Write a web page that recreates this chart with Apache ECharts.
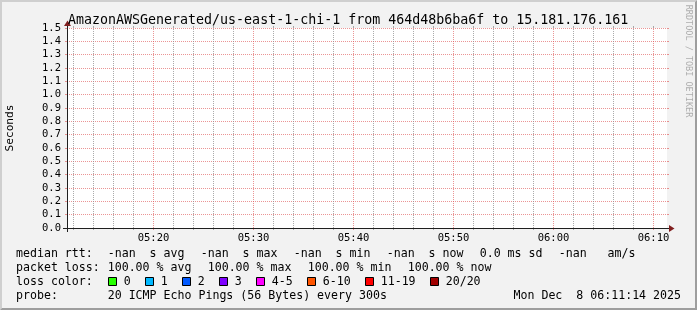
<!DOCTYPE html>
<html><head><meta charset="utf-8">
<script src="https://cdn.jsdelivr.net/npm/echarts@6/dist/echarts.min.js"></script>
<style>html,body{margin:0;padding:0;background:#f2f2f2;overflow:hidden}#c{width:697px;height:310px}</style>
</head><body><div id="c"></div>
<script>
// ---------- data ----------
const titleText = 'AmazonAWSGenerated/us-east-1-chi-1 from 464d48b6ba6f to 15.181.176.161';
const yAxisName = 'Seconds';
const watermark = 'RRDTOOL / TOBI OETIKER';
const timeStart = '05:11:21';
const timeEnd = '06:11:21';
const majorTimes = ['05:20', '05:30', '05:40', '05:50', '06:00', '06:10'];
const minorTimes = ['05:12', '05:14', '05:16', '05:18', '05:22', '05:24', '05:26', '05:28',
  '05:32', '05:34', '05:36', '05:38', '05:42', '05:44', '05:46', '05:48',
  '05:52', '05:54', '05:56', '05:58', '06:02', '06:04', '06:06', '06:08'];
const yMin = 0, yMax = 1.5, yStep = 0.1;
const sampleTimes = ['05:15', '05:20', '05:25', '05:30', '05:35', '05:40', '05:45', '05:50', '05:55', '06:00', '06:05', '06:10'];
const medianRtt = [null, null, null, null, null, null, null, null, null, null, null, null];
const rttLabel = 'median rtt:';
const rttItems = ['-nan  s avg', '-nan  s max', '-nan  s min', '-nan  s now', '0.0 ms sd', '-nan   am/s'];
const lossLabel = 'packet loss:';
const lossItems = ['100.00 % avg', '100.00 % max', '100.00 % min', '100.00 % now'];
const colorLabel = 'loss color:';
const lossLabels = ['0', '1', '2', '3', '4-5', '6-10', '11-19', '20/20'];
const lossColors = ['#26ff00', '#00b8ff', '#0059ff', '#7e00ff', '#ff00ff', '#ff5500', '#ff0000', '#a10000'];
const probeLabel = 'probe:';
const probeText = '20 ICMP Echo Pings (56 Bytes) every 300s';
const dateText = 'Mon Dec  8 06:11:14 2025';

// ---------- helpers / layout ----------
const toMin = s => { const p = s.split(':').map(Number); return (p[0] - 5) * 60 + p[1] + (p[2] || 0) / 60; };
const majorVals = majorTimes.map(toMin);
const minorVals = minorTimes.map(toMin);
const allVals = minorVals.concat(majorVals);
const MONO = '"DejaVu Sans Mono", monospace';
const GRID = 'rgba(143,143,143,0.75)';
const MGRID = 'rgba(222,79,79,0.6)';
const AXIS = '#1f1f1f';
const ARROW = '#801f1f';
const G = { left: 67, top: 28, w: 600, h: 200 };
const X0 = G.left, Y0 = G.top + G.h, X1 = G.left + G.w, Y1 = G.top;
const CW = 7.0, LFS = 11.6, COL = 107.7, LX = 16;
const rows = [253.5, 267.7, 281.7, 295.9];

const gfx = [];
const txt = (t, x, y, opt) => Object.assign({ type: 'text', x: x, y: y, silent: true, z: 100,
  style: Object.assign({ text: t, x: 0, y: 0, font: LFS + 'px ' + MONO, fill: '#000', align: 'left', verticalAlign: 'middle' }, opt || {}) });
// 3d border
gfx.push({ type: 'polygon', silent: true, z: 1, shape: { points: [[0, 310], [2, 308], [2, 2], [695, 2], [697, 0], [0, 0]] }, style: { fill: '#cfcfcf' } });
gfx.push({ type: 'polygon', silent: true, z: 1, shape: { points: [[2, 308], [695, 308], [695, 2], [697, 0], [697, 310], [0, 310]] }, style: { fill: '#9e9e9e' } });
// title / axis name / watermark
gfx.push(txt(titleText, 68, 20.5, { font: '13.3px ' + MONO }));
gfx.push(Object.assign(txt(yAxisName, 10, (Y0 + Y1) / 2, { font: '11.2px ' + MONO, align: 'center' }), { rotation: Math.PI / 2 }));
gfx.push(Object.assign(txt(watermark, 688.5, 61, { font: '8.5px ' + MONO, align: 'center', fill: 'rgba(0,0,0,0.3)' }), { rotation: -Math.PI / 2 }));
// axis extensions + arrows
gfx.push({ type: 'line', silent: true, z: 60, shape: { x1: X0 - 4, y1: Y0 + 0.5, x2: X1 + 4, y2: Y0 + 0.5 }, style: { stroke: AXIS, lineWidth: 1 } });
gfx.push({ type: 'line', silent: true, z: 60, shape: { x1: X0 + 0.5, y1: Y0 + 4, x2: X0 + 0.5, y2: Y1 - 4 }, style: { stroke: AXIS, lineWidth: 1 } });
gfx.push({ type: 'polygon', silent: true, z: 61, shape: { points: [[X1 + 2, Y0 - 3], [X1 + 2, Y0 + 4], [X1 + 7.5, Y0 + 0.5]] }, style: { fill: ARROW } });
gfx.push({ type: 'polygon', silent: true, z: 61, shape: { points: [[X0 - 3, Y1 - 2], [X0 + 4, Y1 - 2], [X0 + 0.5, Y1 - 7.5]] }, style: { fill: ARROW } });
// legend rows
gfx.push(txt(rttLabel, LX, rows[0]));
let x = COL;
rttItems.forEach(s => { gfx.push(txt(s, x, rows[0])); x += s.length * CW + 16; });
gfx.push(txt(lossLabel, LX, rows[1]));
x = COL;
lossItems.forEach(s => { gfx.push(txt(s, x, rows[1])); x += s.length * CW + 16; });
gfx.push(txt(colorLabel, LX, rows[2]));
x = COL + 0.5;
lossLabels.forEach((s, i) => {
  gfx.push({ type: 'rect', silent: true, z: 100, shape: { x: Math.round(x) + 0.5, y: rows[2] - 4.2, width: 8, height: 8 }, style: { fill: lossColors[i], stroke: '#000', lineWidth: 1 } });
  gfx.push(txt(s, x + 15.5, rows[2]));
  x += 30 + s.length * CW;
});
gfx.push(txt(probeLabel, LX, rows[3]));
gfx.push(txt(probeText, COL, rows[3]));
gfx.push(txt(dateText, 681, rows[3], { align: 'right' }));

const labelFor = v => { const i = majorVals.findIndex(m => Math.abs(m - v) < 1e-6); return i >= 0 ? majorTimes[i] : ''; };
const xMin = toMin(timeStart), xMax = toMin(timeEnd);

const chart = echarts.init(document.getElementById('c'), null, { renderer: 'canvas', width: 697, height: 310 });
chart.setOption({
  animation: false,
  backgroundColor: '#f2f2f2',
  grid: { left: G.left, top: G.top, width: G.w, height: G.h, show: true, backgroundColor: '#ffffff', borderWidth: 0, containLabel: false },
  xAxis: [
    { type: 'value', min: xMin, max: xMax, z: 6,
      axisLine: { show: true, lineStyle: { color: AXIS, width: 1 } },
      axisTick: { show: true, customValues: majorVals, length: 2, lineStyle: { color: MGRID } },
      axisLabel: { show: true, customValues: majorVals, formatter: labelFor, fontFamily: MONO, fontSize: 10.5, color: '#000', margin: 4, lineHeight: 12 },
      splitLine: { show: false } },
    { type: 'value', min: xMin, max: xMax, position: 'bottom', z: 6,
      axisLine: { show: false }, axisLabel: { show: false }, splitLine: { show: false },
      axisTick: { show: true, customValues: minorVals, length: 2, lineStyle: { color: GRID } } },
    { type: 'value', min: xMin, max: xMax, position: 'top', z: 6,
      axisLine: { show: false }, axisLabel: { show: false }, splitLine: { show: false },
      axisTick: { show: true, customValues: allVals, length: 2, lineStyle: { color: GRID } } }
  ],
  yAxis: [
    { type: 'value', min: yMin, max: yMax, interval: yStep, z: 5,
      axisLine: { show: true, lineStyle: { color: AXIS, width: 1 } },
      axisTick: { show: true, length: 2, lineStyle: { color: MGRID } },
      axisLabel: { formatter: v => v.toFixed(1), fontFamily: MONO, fontSize: 10.5, color: '#000', margin: 6 },
      splitLine: { show: true, lineStyle: { color: MGRID, type: [1, 1], width: 1 } } },
    { type: 'value', min: yMin, max: yMax, interval: yStep, position: 'right', z: 5,
      axisLine: { show: false }, axisLabel: { show: false }, splitLine: { show: false },
      axisTick: { show: true, length: 2, lineStyle: { color: MGRID } } }
  ],
  series: [{
    type: 'line', name: 'median rtt', xAxisIndex: 0, yAxisIndex: 0, z: 1,
    data: sampleTimes.map((t, i) => [toMin(t), medianRtt[i]]),
    showSymbol: false, connectNulls: false, lineStyle: { color: '#202020', width: 1 },
    markLine: {
      silent: true, symbol: ['none', 'none'], label: { show: false }, animation: false,
      data: minorVals.map(v => ({ xAxis: v, lineStyle: { color: GRID, type: [1, 1], width: 1 } }))
        .concat(majorVals.map(v => ({ xAxis: v, lineStyle: { color: MGRID, type: [1, 1], width: 1 } })))
    }
  }],
  graphic: gfx
});
</script></body></html>
